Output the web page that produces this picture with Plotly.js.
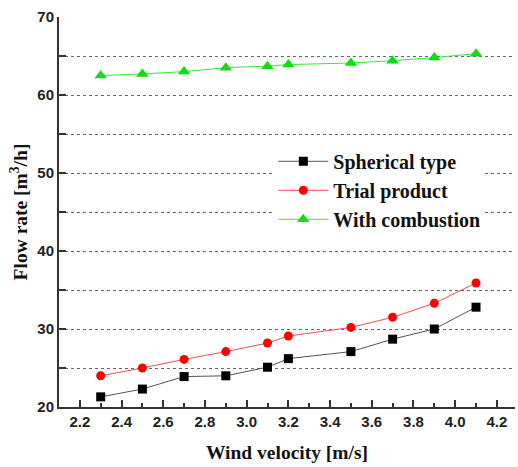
<!DOCTYPE html>
<html>
<head>
<meta charset="utf-8">
<script src="https://cdn.plot.ly/plotly-3.0.1.min.js"></script>
<style>html,body{margin:0;padding:0;background:#fff;}#chart{width:518px;height:467px;}</style>
</head>
<body>
<div id="chart"></div>
<script>
const windVelocity = [2.3, 2.5, 2.7, 2.9, 3.1, 3.2, 3.5, 3.7, 3.9, 4.1];
const sphericalType = [21.3, 22.3, 23.9, 24.0, 25.1, 26.2, 27.1, 28.7, 30.0, 32.8];
const trialProduct = [24.0, 25.0, 26.1, 27.1, 28.2, 29.1, 30.2, 31.5, 33.3, 35.9];
const withCombustion = [62.5, 62.7, 63.0, 63.5, 63.7, 63.9, 64.1, 64.4, 64.8, 65.3];
const seriesNames = ["Spherical type", "Trial product", "With combustion"];

const axisColor = '#333';
const gridColor = '#666';
const tickFont = {family: 'Liberation Sans, Arial', size: 15, weight: 'bold', color: '#222'};
const titleFont = {family: 'Liberation Serif, Times New Roman', size: 19.5, weight: 'bold', color: '#111'};
const legendFont = {family: 'Liberation Serif, Times New Roman', size: 20, weight: 'bold', color: '#111'};

const traces = [
  {x: windVelocity, y: sphericalType, name: seriesNames[0], mode: 'lines+markers',
   line: {color: '#555', width: 1}, marker: {symbol: 'square', size: 9, color: '#000'}},
  {x: windVelocity, y: trialProduct, name: seriesNames[1], mode: 'lines+markers',
   line: {color: '#ff4d4d', width: 1}, marker: {symbol: 'circle', size: 9, color: '#ff0000'}},
  {x: windVelocity, y: withCombustion, name: seriesNames[2], mode: 'lines+markers',
   line: {color: '#33ee33', width: 1}, marker: {symbol: 'triangle-up', size: 11, color: '#11dd11'}}
];

const layout = {
  width: 518, height: 467,
  margin: {l: 59, r: 3, t: 17, b: 60, pad: 0},
  paper_bgcolor: '#fff', plot_bgcolor: '#fff',
  showlegend: true,
  legend: {x: 0.47, y: 0.68, xanchor: 'left', yanchor: 'top', bgcolor: '#fff', borderwidth: 0,
    font: legendFont, itemwidth: 50},
  xaxis: {range: [2.1, 4.287], tick0: 2.2, dtick: 0.2, tickformat: '.1f',
    ticks: 'inside', ticklen: 7, tickwidth: 2, tickcolor: axisColor,
    showline: true, linewidth: 2, linecolor: axisColor, showgrid: false, zeroline: false,
    minor: {dtick: 0.1, ticks: 'inside', ticklen: 4, tickwidth: 2, tickcolor: axisColor, showgrid: false},
    tickfont: tickFont,
    title: {text: 'Wind velocity [m/s]', font: titleFont, standoff: 16}},
  yaxis: {range: [20, 70], dtick: 10, ticks: 'inside', ticklen: 7, tickwidth: 2, tickcolor: axisColor,
    showline: true, linewidth: 2, linecolor: axisColor, zeroline: false,
    showgrid: true, gridcolor: gridColor, gridwidth: 1, griddash: 'dot',
    minor: {dtick: 5, ticks: 'inside', ticklen: 7, tickwidth: 2, tickcolor: axisColor,
      showgrid: true, gridcolor: gridColor, gridwidth: 1, griddash: 'dot'},
    tickfont: tickFont,
    title: {text: 'Flow rate [m<sup>3</sup>/h]', font: titleFont, standoff: 4}}
};

Plotly.newPlot('chart', traces, layout, {displayModeBar: false, staticPlot: true});
</script>
</body>
</html>
